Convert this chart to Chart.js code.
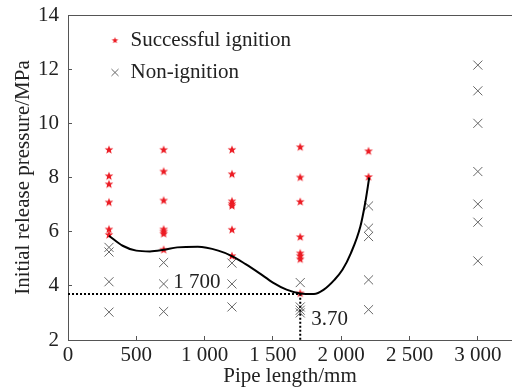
<!DOCTYPE html>
<html>
<head>
<meta charset="utf-8">
<script src="https://cdn.jsdelivr.net/npm/chart.js@4/dist/chart.umd.min.js"></script>
<style>
html,body{margin:0;padding:0;background:#fff;}
#wrap{width:512px;height:389px;}
</style>
</head>
<body>
<div id="wrap"><canvas id="c" width="512" height="389"></canvas></div>
<script>
// ---- data ----
const ignitionX = [300,300,300,300,300,300, 700,700,700,700,700,700,700, 1200,1200,1200,1200,1200,1200,1200, 1700,1700,1700,1700,1700,1700,1700,1700, 2200,2200];
const ignitionY = [9.02,8.05,7.75,7.08,6.08,5.88, 9.02,8.22,7.15,6.08,6.0,5.92,5.33, 9.02,8.12,7.12,7.02,6.95,6.07,5.1, 9.12,8.0,7.1,5.8,5.2,5.1,4.98,3.72, 8.97,8.02];
const nonIgnX = [300,300,300,300, 700,700,700, 1200,1200,1200, 1700,1700,1700,1700, 2200,2200,2200,2200,2200, 3000,3000,3000,3000,3000,3000,3000];
const nonIgnY = [5.42,5.25,4.15,3.03, 4.86,4.07,3.05, 4.84,4.07,3.22, 4.12,3.22,3.1,3.0, 6.95,6.13,5.82,4.22,3.12, 12.15,11.2,10.0,8.22,7.02,6.35,4.92];
const curveX = [300,400,500,600,700,800,950,1100,1200,1300,1400,1500,1600,1700,1800,1870,1950,2010,2070,2140,2175,2205];
const curveY = [5.85,5.48,5.3,5.27,5.33,5.42,5.44,5.3,5.1,4.8,4.47,4.12,3.86,3.72,3.70,3.85,4.22,4.6,5.2,6.19,7.05,8.0];
const markX = [0,1700,1700];
const markY = [3.70,3.70,2];
const xTicks = [0,500,1000,1500,2000,2500,3000];
const yTicks = [2,4,6,8,10,12,14];
const seriesNames = ['Successful ignition','Non-ignition'];
const annotations = [{text:'1 700', x:770, y:4.14}, {text:'3.70', x:1781, y:2.77}];

const FONT = 'Liberation Serif';
const FS = 21;
const TXT = '#222';
const AX = '#555';

function makeStar(R, color){
  const s = Math.ceil(R*2)+2;
  const c = document.createElement('canvas');
  c.width = s; c.height = s;
  const g = c.getContext('2d');
  g.fillStyle = color;
  g.beginPath();
  for(let i=0;i<10;i++){
    const r = i%2===0 ? R : R*0.42;
    const a = -Math.PI/2 + i*Math.PI/5;
    const px = s/2 + r*Math.cos(a), py = s/2 + r*Math.sin(a);
    if(i===0) g.moveTo(px,py); else g.lineTo(px,py);
  }
  g.closePath(); g.fill();
  return c;
}
const starBig = makeStar(4.6, '#ec1c24');
const starSmall = makeStar(3.4, '#ec1c24');

const zip = (xs, ys) => xs.map((x,i)=>({x, y: ys[i]}));
const fmt = v => String(v).replace(/\B(?=(\d{3})+(?!\d))/g, ' ');

const framePlugin = {
  id: 'frame',
  afterLayout(chart){
    const lg = chart.legend;
    if(lg){ lg.left = 99; lg.top = 19; }
  },
  afterDatasetsDraw(chart){
    const {ctx, chartArea: a, scales} = chart;
    ctx.save();
    ctx.strokeStyle = AX; ctx.lineWidth = 1;
    ctx.beginPath();
    ctx.moveTo(a.left, a.top + 0.5); ctx.lineTo(a.right, a.top + 0.5);
    ctx.stroke();
    ctx.fillStyle = TXT;
    ctx.font = FS + 'px "' + FONT + '"';
    ctx.textAlign = 'left'; ctx.textBaseline = 'middle';
    annotations.forEach(an => {
      ctx.fillText(an.text, scales.x.getPixelForValue(an.x), scales.y.getPixelForValue(an.y));
    });
    ctx.restore();
  }
};

new Chart(document.getElementById('c'), {
  type: 'scatter',
  data: {
    datasets: [
      { label: seriesNames[0], data: zip(ignitionX, ignitionY), pointStyle: starBig,
        backgroundColor: '#ec1c24', borderColor: '#ec1c24', pointRadius: 5, order: 2 },
      { label: seriesNames[1], data: zip(nonIgnX, nonIgnY), pointStyle: 'crossRot',
        backgroundColor: '#666', borderColor: '#666', borderWidth: 1, pointRadius: 6.4, order: 2 },
      { label: 'fit', data: zip(curveX, curveY), showLine: true, pointRadius: 0,
        borderColor: '#000', borderWidth: 2, cubicInterpolationMode: 'monotone', order: 1 },
      { label: 'mark', data: zip(markX, markY), showLine: true, pointRadius: 0,
        borderColor: '#000', borderWidth: 2, borderDash: [2,2], order: 1 }
    ]
  },
  options: {
    responsive: false,
    animation: false,
    devicePixelRatio: 1,
    layout: { autoPadding: false, padding: { top: 15, left: 0, right: 0, bottom: 0 } },
    plugins: {
      tooltip: { enabled: false },
      legend: {
        position: 'chartArea',
        align: 'start',
        labels: {
          usePointStyle: true,
          pointStyleWidth: 10,
          boxHeight: 7,
          padding: 11,
          color: TXT,
          font: { family: FONT, size: FS },
          filter: item => item.datasetIndex < 2,
          generateLabels: chart => {
            const items = Chart.defaults.plugins.legend.labels.generateLabels(chart);
            items.forEach(it => { if(it.datasetIndex === 0) it.pointStyle = starSmall; });
            return items;
          }
        }
      }
    },
    scales: {
      x: {
        type: 'linear', min: 0, max: 3250,
        afterBuildTicks: s => { s.ticks = xTicks.map(v => ({value: v})); },
        afterFit: s => { s.height = 49; s.paddingLeft = 0; s.paddingRight = 0; },
        grid: { display: true, drawOnChartArea: false, drawTicks: true, tickLength: -4, color: AX },
        border: { display: true, color: AX, width: 1 },
        ticks: { color: TXT, font: { family: FONT, size: FS }, padding: 7, maxRotation: 0, callback: v => fmt(v) },
        title: { display: true, text: 'Pipe length/mm', color: TXT, font: { family: FONT, size: FS }, padding: { top: 0, bottom: 0 } }
      },
      y: {
        type: 'linear', min: 2, max: 14,
        afterBuildTicks: s => { s.ticks = yTicks.map(v => ({value: v})); },
        afterFit: s => { s.width = 68; s.paddingTop = 0; s.paddingBottom = 0; },
        grid: { display: true, drawOnChartArea: false, drawTicks: true, tickLength: -4, color: AX },
        border: { display: true, color: AX, width: 1 },
        ticks: { color: TXT, font: { family: FONT, size: FS }, padding: 13 },
        title: { display: true, text: 'Initial release pressure/MPa', color: TXT, font: { family: FONT, size: FS }, padding: { top: 11, bottom: 0 } }
      }
    }
  },
  plugins: [framePlugin]
});
</script>
</body>
</html>
